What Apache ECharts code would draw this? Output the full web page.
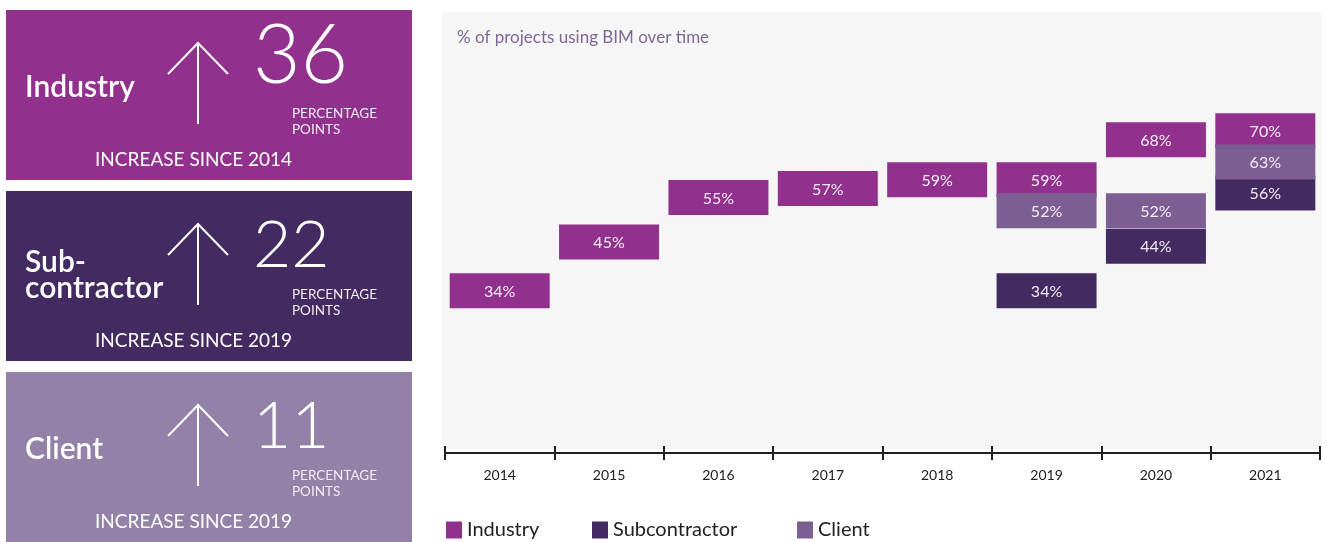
<!DOCTYPE html>
<html>
<head>
<meta charset="utf-8">
<title>% of projects using BIM over time</title>
<script src="https://cdn.jsdelivr.net/npm/echarts@6/dist/echarts.min.js"></script>
<style>
  html, body { margin: 0; padding: 0; background: #fff; }
  #chart { width: 1327px; height: 542px; }
</style>
</head>
<body>
<div id="chart"></div>
<script>
// data
const YEARS = ['2014', '2015', '2016', '2017', '2018', '2019', '2020', '2021'];
const INDUSTRY = [34, 45, 55, 57, 59, 59, 68, 70];
const SUBCONTRACTOR = [null, null, null, null, null, 34, 44, 56];
const CLIENT = [null, null, null, null, null, 52, 52, 63];

const PANEL_NAMES = ['Industry', 'Sub-\ncontractor', 'Client'];
const PANEL_RISE = ['36', '22', '11'];
const PANEL_SINCE = ['2014', '2019', '2019'];

const COLORS = { industry: '#92308e', sub: '#432b62', client: '#7d5e93', clientPanel: '#9481a8' };
const FONT = 'Lato, "Noto Sans", sans-serif';

(function () {
  const chart = echarts.init(document.getElementById('chart'), null, { renderer: 'canvas' });

  function toPoints(arr) {
    return arr.map((v, i) => (v == null ? null : [i, v])).filter(Boolean);
  }

  function renderBox(params, api) {
    const pt = api.coord([api.value(0), api.value(1)]);
    const w = 100, h = 35;
    return {
      type: 'group',
      children: [
        {
          type: 'rect',
          shape: { x: pt[0] - w / 2, y: pt[1] - h / 2, width: w, height: h },
          style: { fill: api.visual('color') }
        },
        {
          type: 'text',
          x: pt[0], y: pt[1] + 1,
          style: {
            text: api.value(1) + '%',
            fill: '#f3ecf4',
            font: '16px ' + FONT,
            align: 'center',
            verticalAlign: 'middle'
          }
        }
      ]
    };
  }

  // left hand summary panels
  const panelFills = [COLORS.industry, COLORS.sub, COLORS.clientPanel];
  const panelTops = [10, 191, 372];
  const graphics = [{
    type: 'rect', z: -10,
    shape: { x: 442, y: 12, width: 879, height: 437 },
    style: { fill: '#f6f6f6' }
  }];
  panelTops.forEach((top, i) => {
    const tall = /[3-9]/.test(PANEL_RISE[i]);
    graphics.push(
      { type: 'rect', shape: { x: 6, y: top, width: 406, height: 170 }, style: { fill: panelFills[i] } },
      {
        type: 'text', x: 25, y: top + (i === 1 ? 84 : 77),
        style: { text: PANEL_NAMES[i], fill: '#fff', font: '600 30px ' + FONT, lineHeight: 26, verticalAlign: 'middle' }
      },
      {
        type: 'polyline',
        shape: { points: [[198, top + 114], [198, top + 33]] },
        style: { stroke: '#fff', lineWidth: 2, fill: null }
      },
      {
        type: 'polyline',
        shape: { points: [[168, top + 64], [198, top + 33], [228, top + 64]] },
        style: { stroke: '#fff', lineWidth: 2, fill: null }
      },
      {
        type: 'text', x: 253, y: top + 88,
        style: { text: PANEL_RISE[i], fill: '#fff', font: '300 ' + (tall ? 82 : 66) + 'px ' + FONT, verticalAlign: 'bottom' }
      },
      {
        type: 'text', x: 292, y: top + 104,
        style: { text: 'PERCENTAGE', fill: '#f2ecf4', font: '13.5px ' + FONT, verticalAlign: 'middle' }
      },
      {
        type: 'text', x: 292, y: top + 120,
        style: { text: 'POINTS', fill: '#f2ecf4', font: '13.5px ' + FONT, verticalAlign: 'middle' }
      },
      {
        type: 'text', x: 95, y: top + 150,
        style: { text: 'INCREASE SINCE ' + PANEL_SINCE[i], fill: '#fff', font: '19px ' + FONT, verticalAlign: 'middle' }
      }
    );
  });
  graphics.push({
    type: 'text', x: 457, y: 38,
    style: { text: '% of projects using BIM over time', fill: '#7e6896', font: '17px ' + FONT, verticalAlign: 'middle' }
  });

  const seriesDefs = [
    { name: 'Industry', data: INDUSTRY, color: COLORS.industry },
    { name: 'Subcontractor', data: SUBCONTRACTOR, color: COLORS.sub },
    { name: 'Client', data: CLIENT, color: COLORS.client }
  ];
  const legendLefts = [446, 592, 797];

  chart.setOption({
    animation: false,
    textStyle: { fontFamily: FONT },
    graphic: graphics,
    legend: seriesDefs.map((s, i) => ({
      left: legendLefts[i], top: 520, padding: 0,
      icon: 'rect', itemWidth: 16, itemHeight: 17,
      textStyle: { fontSize: 20, color: '#222', fontFamily: FONT },
      data: [s.name]
    })),
    grid: { left: 445, right: 7, top: 53, bottom: 89 },
    xAxis: [{
      type: 'category',
      data: YEARS,
      position: 'bottom',
      axisLine: { show: true, onZero: false, lineStyle: { color: '#222', width: 2 } },
      axisTick: { show: true, length: 7, lineStyle: { color: '#222', width: 2 } },
      axisLabel: { color: '#222', fontSize: 14, margin: 15 },
      splitLine: { show: false }
    }, {
      type: 'category',
      data: YEARS,
      position: 'bottom',
      axisLine: { show: false, onZero: false },
      axisTick: { show: true, inside: true, length: 7, lineStyle: { color: '#222', width: 2 } },
      axisLabel: { show: false },
      splitLine: { show: false }
    }],
    yAxis: { type: 'value', min: -2.5, max: 87.5, show: false, splitLine: { show: false } },
    series: seriesDefs.map(s => ({
      type: 'custom',
      name: s.name,
      itemStyle: { color: s.color },
      renderItem: renderBox,
      encode: { x: 0, y: 1 },
      data: toPoints(s.data)
    }))
  });

  window.addEventListener('resize', () => chart.resize());
})();
</script>
</body>
</html>
